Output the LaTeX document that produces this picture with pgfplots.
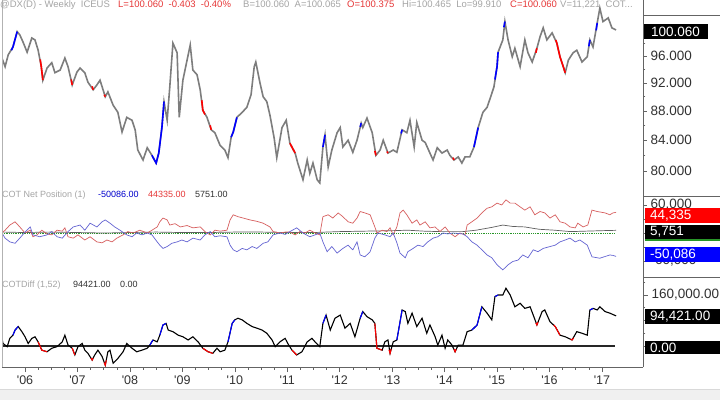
\documentclass[border=0pt]{standalone}
\usepackage{pgfplots}
\pgfplotsset{compat=1.18}
\usepackage{fontspec}
\setmainfont{Liberation Sans}
\definecolor{pricegray}{RGB}{125,125,125}
\definecolor{pblue}{RGB}{0,0,255}
\definecolor{pred}{RGB}{255,0,0}
\definecolor{cotred}{RGB}{215,95,95}
\definecolor{cotblue}{RGB}{100,100,210}
\definecolor{cotblack}{RGB}{95,95,95}
\definecolor{axgray}{RGB}{100,100,100}
\definecolor{lblgray}{RGB}{50,50,50}
\definecolor{hdrgray}{RGB}{165,165,165}
\definecolor{hdrred}{RGB}{230,55,55}
\definecolor{zgreen}{RGB}{40,150,40}
\pgfplotsset{
 panel/.style={scale only axis, width=641pt, xmin=2005.561, xmax=2017.783, anchor=north west,
   tick align=outside,
   major tick length=4pt, minor tick length=2.5pt,
   every tick/.style={draw=axgray, line width=0.6pt},
   axis line style={draw=axgray, line width=0.8pt},
   yticklabel style={font=\fontsize{13.5}{14}\selectfont, text=lblgray},
   unbounded coords=jump},
}
\begin{document}
\begin{tikzpicture}
\useasboundingbox (0pt,0pt) rectangle (720pt,-400pt);
\fill[white] (0pt,0pt) rectangle (720pt,-400pt);
% ---------- price panel
\begin{axis}[panel, at={(2pt,0pt)}, height=196pt, ymode=log, ymin=76.89, ymax=104.95,
  axis y line*=right, axis x line=none,
  ytick={80,84,88,92,96}, yticklabels={80.000,84.000,88.000,92.000,96.000},
  minor ytick={82,86,90,94,98}]
\addplot[pricegray, line width=1.6pt] coordinates {(2005.56,95.7)(2005.62,94.4)(2005.68,96.2)(2005.77,97.4)(2005.85,99.8)(2005.90,99.3)(2005.96,98.2)(2006.04,96.6)(2006.13,98.8)(2006.19,98.5)(2006.25,96.9)(2006.31,94.4)(2006.34,92.4)(2006.42,94.2)(2006.51,95.0)(2006.57,93.5)(2006.67,93.9)(2006.76,95.7)(2006.82,94.4)(2006.90,91.7)(2006.99,93.6)(2007.05,94.2)(2007.14,93.5)(2007.20,92.1)(2007.30,91.0)(2007.37,91.7)(2007.43,92.4)(2007.53,90.0)(2007.58,90.7)(2007.68,88.8)(2007.77,87.8)(2007.85,85.1)(2007.94,87.1)(2008.04,86.7)(2008.10,85.4)(2008.15,82.7)(2008.25,81.4)(2008.33,83.0)(2008.42,82.0)(2008.50,81.0)(2008.55,82.3)(2008.61,85.7)(2008.65,89.3)(2008.71,86.7)(2008.76,91.4)(2008.82,98.0)(2008.90,96.5)(2008.94,87.1)(2009.01,92.4)(2009.09,95.4)(2009.15,97.7)(2009.20,93.9)(2009.28,93.2)(2009.34,91.0)(2009.39,88.1)(2009.47,87.1)(2009.55,85.4)(2009.62,85.0)(2009.72,83.3)(2009.81,82.7)(2009.87,81.7)(2009.93,84.4)(2009.97,85.1)(2010.04,87.1)(2010.14,87.8)(2010.23,88.5)(2010.31,90.3)(2010.37,94.4)(2010.40,95.1)(2010.48,92.0)(2010.54,90.0)(2010.61,89.3)(2010.67,87.4)(2010.75,84.3)(2010.80,81.7)(2010.90,85.7)(2010.98,86.7)(2011.05,83.6)(2011.15,82.3)(2011.20,81.0)(2011.30,78.9)(2011.38,81.4)(2011.43,79.7)(2011.49,81.0)(2011.57,78.9)(2011.62,78.5)(2011.68,83.1)(2011.72,84.7)(2011.78,80.5)(2011.85,82.7)(2011.95,85.0)(2012.01,85.7)(2012.06,83.1)(2012.16,84.0)(2012.25,82.4)(2012.33,84.0)(2012.41,86.3)(2012.44,85.7)(2012.52,87.0)(2012.62,85.0)(2012.69,82.0)(2012.77,82.7)(2012.83,84.0)(2012.92,82.3)(2013.02,82.7)(2013.09,82.4)(2013.19,85.4)(2013.28,85.0)(2013.34,86.7)(2013.42,83.1)(2013.47,86.4)(2013.57,84.0)(2013.63,83.7)(2013.72,82.3)(2013.78,81.4)(2013.86,83.0)(2013.95,82.3)(2014.05,82.7)(2014.10,82.0)(2014.18,81.4)(2014.26,81.8)(2014.33,81.0)(2014.39,81.8)(2014.48,81.8)(2014.56,83.1)(2014.64,85.7)(2014.73,87.8)(2014.81,88.5)(2014.87,89.8)(2014.94,91.4)(2015.00,94.4)(2015.02,96.6)(2015.11,98.5)(2015.15,101.4)(2015.21,98.5)(2015.29,95.9)(2015.34,97.2)(2015.44,94.4)(2015.53,98.5)(2015.59,96.5)(2015.67,95.1)(2015.76,97.2)(2015.82,99.0)(2015.88,100.4)(2015.95,98.5)(2016.05,99.6)(2016.14,98.0)(2016.20,95.9)(2016.30,93.5)(2016.36,95.4)(2016.45,96.5)(2016.52,96.9)(2016.62,95.1)(2016.72,95.9)(2016.77,98.5)(2016.83,97.4)(2016.91,101.2)(2016.96,103.6)(2017.02,101.4)(2017.12,102.0)(2017.19,100.4)(2017.27,100.06)};
\addplot[pblue, line width=1.6pt] coordinates {(2005.74,96.9)(2005.77,97.4)(2005.85,99.8)(2005.86,nan)
(2008.42,82.0)(2008.50,81.0)(2008.55,82.3)(2008.61,85.7)(2008.65,89.3)(2008.66,nan)
(2009.93,84.4)(2009.97,85.1)(2010.04,87.1)(2010.05,nan)
(2011.68,83.1)(2011.72,84.7)(2011.73,nan)
(2012.39,85.8)(2012.41,86.3)(2012.42,nan)
(2013.17,84.9)(2013.19,85.4)(2013.20,nan)
(2014.56,83.1)(2014.64,85.7)(2014.65,nan)
(2014.96,92.5)(2015.00,94.4)(2015.02,96.6)(2015.03,nan)
(2015.13,100.5)(2015.15,101.4)(2015.16,nan)
(2016.75,97.5)(2016.77,98.5)(2016.78,nan)
(2016.89,100.0)(2016.91,101.2)};
\addplot[pred, line width=1.6pt] coordinates {(2006.29,95.5)(2006.31,94.4)(2006.34,92.4)(2006.35,nan)
(2006.88,92.5)(2006.90,91.7)(2006.91,nan)
(2007.28,91.5)(2007.30,91.0)(2007.31,nan)
(2007.51,90.3)(2007.53,90.0)(2007.54,nan)
(2009.37,89.5)(2009.39,88.1)(2009.43,87.5)(2009.44,nan)
(2009.53,86.0)(2009.55,85.4)(2009.56,nan)
(2011.05,83.6)(2011.15,82.3)(2011.16,nan)
(2012.67,82.6)(2012.69,82.0)(2012.70,nan)
(2012.90,82.5)(2012.92,82.3)(2012.93,nan)
(2014.16,81.7)(2014.18,81.4)(2014.19,nan)
(2015.74,96.5)(2015.76,97.2)(2015.77,nan)
(2016.12,98.5)(2016.14,98.0)(2016.20,95.9)(2016.30,93.5)};
\end{axis}
% ---------- COT net position panel
\begin{axis}[panel, at={(2pt,-196pt)}, height=81pt, ymin=-94.2, ymax=79.2,
  axis y line*=right, axis x line=none,
  ytick={-60,60}, yticklabels={{-60{,}000},{60{,}000}}, minor ytick={-30,0,30}]
\addplot[zgreen, densely dotted, line width=0.8pt] coordinates {(2005.56,0)(2017.25,0)};
\addplot[cotblack, line width=0.7pt] coordinates {(2005.56,2)(2006.0,1)(2006.5,2)(2007.0,1)(2007.5,0)(2008.0,1)(2008.5,2)(2009.0,1)(2009.5,1)(2010.0,2)(2010.5,2)(2011.0,1)(2011.5,1)(2012.0,3)(2012.5,4)(2013.0,5)(2013.3,6)(2013.6,4)(2013.9,3)(2014.35,3)(2014.6,6)(2014.9,12)(2015.11,17)(2015.3,14)(2015.53,13)(2015.8,8)(2016.1,6)(2016.4,3)(2016.7,4)(2017.0,5)(2017.27,5.751)};
\addplot[cotred, line width=0.7pt] coordinates {(2005.56,0)(2005.62,6)(2005.71,17)(2005.81,24)(2005.90,13)(2006.00,0)(2006.10,6)(2006.15,-8)(2006.23,-4)(2006.32,6)(2006.42,-2)(2006.51,-4)(2006.61,6)(2006.71,4)(2006.76,11)(2006.82,-8)(2006.92,-11)(2007.01,-4)(2007.14,-15)(2007.24,-8)(2007.37,-19)(2007.47,-21)(2007.56,-15)(2007.66,-19)(2007.75,-11)(2007.87,-4)(2007.96,3)(2008.06,0)(2008.19,6)(2008.33,0)(2008.42,6)(2008.52,13)(2008.57,24)(2008.63,32)(2008.71,28)(2008.76,17)(2008.86,20)(2008.96,13)(2009.09,16)(2009.20,11)(2009.34,13)(2009.43,3)(2009.53,-4)(2009.62,6)(2009.72,4)(2009.85,6)(2009.91,28)(2009.97,39)(2010.06,35)(2010.16,32)(2010.29,28)(2010.42,25)(2010.54,21)(2010.67,13)(2010.73,3)(2010.86,0)(2010.96,2)(2011.05,2)(2011.15,-4)(2011.24,3)(2011.34,0)(2011.43,6)(2011.53,0)(2011.62,-4)(2011.68,35)(2011.78,39)(2011.87,32)(2011.97,43)(2012.06,35)(2012.16,24)(2012.25,21)(2012.33,32)(2012.39,46)(2012.48,43)(2012.58,39)(2012.67,13)(2012.71,0)(2012.81,6)(2012.90,3)(2012.96,11)(2013.02,-4)(2013.09,13)(2013.15,43)(2013.21,49)(2013.28,39)(2013.38,21)(2013.47,28)(2013.53,17)(2013.63,24)(2013.72,11)(2013.82,13)(2013.91,3)(2014.01,13)(2014.10,0)(2014.20,-8)(2014.29,0)(2014.39,-4)(2014.43,17)(2014.52,24)(2014.62,32)(2014.71,43)(2014.81,53)(2014.90,56)(2015.00,64)(2015.09,60)(2015.17,71)(2015.25,64)(2015.34,64)(2015.44,56)(2015.53,49)(2015.63,56)(2015.72,39)(2015.82,46)(2015.91,43)(2016.01,32)(2016.11,39)(2016.20,24)(2016.30,21)(2016.39,13)(2016.49,11)(2016.54,21)(2016.64,13)(2016.73,17)(2016.81,49)(2016.91,46)(2017.06,43)(2017.15,39)(2017.21,43)(2017.27,44.335)};
\addplot[cotblue, line width=0.7pt] coordinates {(2005.56,0)(2005.62,-11)(2005.71,-19)(2005.81,-22)(2005.90,-11)(2006.00,2)(2006.10,13)(2006.15,-4)(2006.28,-8)(2006.42,-4)(2006.51,3)(2006.61,-8)(2006.71,-11)(2006.82,3)(2006.92,13)(2007.05,17)(2007.14,6)(2007.24,21)(2007.37,13)(2007.47,24)(2007.53,28)(2007.62,21)(2007.71,13)(2007.81,6)(2007.94,-4)(2008.04,-8)(2008.13,0)(2008.23,-4)(2008.33,0)(2008.42,-4)(2008.52,-19)(2008.57,-26)(2008.63,-33)(2008.71,-29)(2008.80,-22)(2008.90,-19)(2008.99,-15)(2009.09,-19)(2009.20,-11)(2009.34,-15)(2009.43,-4)(2009.53,3)(2009.62,-8)(2009.72,-6)(2009.85,-8)(2009.91,-26)(2009.97,-36)(2010.04,-40)(2010.14,-33)(2010.23,-36)(2010.33,-29)(2010.42,-33)(2010.54,-22)(2010.63,-19)(2010.73,-4)(2010.86,0)(2010.96,-3)(2011.05,3)(2011.18,11)(2011.30,0)(2011.43,-8)(2011.53,-4)(2011.62,0)(2011.68,-19)(2011.76,-40)(2011.85,-29)(2011.95,-43)(2012.06,-33)(2012.16,-26)(2012.25,-36)(2012.33,-19)(2012.39,-47)(2012.48,-51)(2012.58,-40)(2012.67,-11)(2012.73,0)(2012.86,-4)(2012.96,-8)(2013.02,0)(2013.09,-21)(2013.15,-43)(2013.25,-53)(2013.30,-40)(2013.40,-33)(2013.49,-26)(2013.59,-29)(2013.68,-19)(2013.78,-11)(2013.87,-8)(2013.97,0)(2014.06,-2)(2014.16,0)(2014.26,-1)(2014.35,-2)(2014.43,-8)(2014.52,-19)(2014.62,-26)(2014.71,-36)(2014.81,-47)(2014.90,-53)(2015.00,-68)(2015.11,-79)(2015.21,-68)(2015.30,-61)(2015.40,-58)(2015.49,-47)(2015.59,-53)(2015.69,-36)(2015.78,-40)(2015.88,-33)(2016.01,-29)(2016.11,-26)(2016.20,-19)(2016.30,-15)(2016.39,-11)(2016.49,-19)(2016.58,-15)(2016.72,-26)(2016.81,-51)(2016.91,-53)(2016.96,-54)(2017.15,-47)(2017.21,-48)(2017.27,-50.086)};
\end{axis}
% ---------- COTDiff panel
\begin{axis}[panel, at={(2pt,-277pt)}, height=90pt, ymin=-65.8, ymax=216.3,
  axis y line*=right, axis x line*=bottom,
  ytick={160}, yticklabels={{160{,}000.00}}, minor ytick={0,40,80,120,200},
  xtick={2006,2007,2008,2009,2010,2011,2012,2013,2014,2015,2016,2017},
  xticklabels={{\textquotesingle06},{\textquotesingle07},{\textquotesingle08},{\textquotesingle09},{\textquotesingle10},{\textquotesingle11},{\textquotesingle12},{\textquotesingle13},{\textquotesingle14},{\textquotesingle15},{\textquotesingle16},{\textquotesingle17}},
  minor x tick num=3, major tick length=5pt,
  xticklabel style={font=\fontsize{12.5}{13}\selectfont, text=lblgray}]
\addplot[black!85, line width=1.2pt] coordinates {(2005.56,0)(2017.25,0)};
\addplot[black, line width=1.1pt] coordinates {(2005.56,24)(2005.58,8)(2005.66,-2)(2005.71,24)(2005.77,34)(2005.81,50)(2005.87,61)(2005.94,45)(2006.00,29)(2006.06,8)(2006.13,24)(2006.19,29)(2006.25,13)(2006.32,-13)(2006.42,-18)(2006.51,-7)(2006.61,-2)(2006.71,13)(2006.76,34)(2006.82,3)(2006.90,-7)(2006.95,-28)(2007.01,-2)(2007.09,8)(2007.14,-13)(2007.20,-23)(2007.28,-44)(2007.33,-28)(2007.39,-13)(2007.47,-33)(2007.53,-60)(2007.58,-18)(2007.62,-13)(2007.68,-54)(2007.77,-39)(2007.87,-18)(2007.94,8)(2008.04,-7)(2008.13,-18)(2008.23,-13)(2008.33,-7)(2008.38,3)(2008.44,19)(2008.52,13)(2008.57,34)(2008.63,66)(2008.69,71)(2008.73,50)(2008.82,45)(2008.92,34)(2009.01,29)(2009.11,19)(2009.20,29)(2009.30,13)(2009.39,-7)(2009.49,-18)(2009.58,-23)(2009.66,-7)(2009.72,-18)(2009.81,-13)(2009.87,13)(2009.95,71)(2010.00,82)(2010.06,87)(2010.14,82)(2010.23,71)(2010.33,61)(2010.42,56)(2010.52,50)(2010.61,40)(2010.71,19)(2010.77,-2)(2010.86,13)(2010.96,24)(2011.01,8)(2011.09,-13)(2011.18,-28)(2011.28,-18)(2011.38,13)(2011.47,24)(2011.53,13)(2011.62,-2)(2011.68,71)(2011.74,97)(2011.82,50)(2011.91,87)(2012.01,97)(2012.10,56)(2012.20,71)(2012.29,29)(2012.39,87)(2012.44,108)(2012.52,92)(2012.62,82)(2012.67,71)(2012.71,-7)(2012.81,-13)(2012.86,13)(2012.92,19)(2012.96,-23)(2013.02,13)(2013.09,19)(2013.19,113)(2013.25,108)(2013.30,71)(2013.38,103)(2013.47,61)(2013.57,87)(2013.66,40)(2013.72,66)(2013.82,29)(2013.87,3)(2013.95,34)(2014.01,-7)(2014.06,19)(2014.14,3)(2014.20,-18)(2014.26,3)(2014.35,3)(2014.43,45)(2014.52,50)(2014.62,66)(2014.71,123)(2014.81,103)(2014.90,82)(2014.96,155)(2015.02,160)(2015.11,160)(2015.17,181)(2015.25,160)(2015.34,123)(2015.44,134)(2015.53,118)(2015.63,123)(2015.69,97)(2015.76,66)(2015.86,108)(2015.91,113)(2016.01,76)(2016.11,61)(2016.20,34)(2016.30,29)(2016.43,19)(2016.52,45)(2016.62,40)(2016.72,34)(2016.77,113)(2016.83,118)(2016.91,113)(2016.96,123)(2017.06,108)(2017.15,103)(2017.27,94.421)};
\addplot[pblue, line width=1.1pt] coordinates {(2005.77,34)(2005.81,50)(2005.87,61)(2005.88,nan)
(2008.38,3)(2008.44,19)(2008.45,nan)
(2008.57,34)(2008.63,66)(2008.69,71)(2008.70,nan)
(2009.87,13)(2009.95,71)(2010.00,82)(2010.01,nan)
(2011.68,71)(2011.74,97)(2011.75,nan)
(2012.39,87)(2012.44,108)(2012.45,nan)
(2013.09,19)(2013.19,113)(2013.20,nan)
(2014.52,50)(2014.62,66)(2014.71,123)(2014.72,nan)
(2014.96,155)(2015.02,160)(2015.03,nan)
(2016.77,113)(2016.83,118)};
\addplot[pred, line width=1.1pt] coordinates {(2006.25,13)(2006.32,-13)(2006.42,-18)(2006.43,nan)
(2006.90,-7)(2006.95,-28)(2006.96,nan)
(2007.26,-38)(2007.28,-44)(2007.30,-38)(2007.31,nan)
(2007.51,-52)(2007.53,-60)(2007.55,-45)(2007.56,nan)
(2009.39,-7)(2009.49,-18)(2009.58,-23)(2009.59,nan)
(2011.09,-13)(2011.18,-28)(2011.19,nan)
(2012.67,71)(2012.71,-7)(2012.81,-13)(2012.82,nan)
(2012.94,-12)(2012.96,-23)(2012.98,-10)(2012.99,nan)
(2014.18,-10)(2014.20,-18)(2014.22,-10)(2014.23,nan)
(2015.74,72)(2015.76,66)(2015.78,75)(2015.79,nan)
(2016.08,66)(2016.11,61)(2016.20,34)(2016.21,nan)
(2016.40,21)(2016.43,19)(2016.46,25)};
\end{axis}
\begin{scope}[x=1pt,y=1pt]
% ---------- frame lines
\draw[black!30, line width=0.8pt] (2,0) -- (2,-367);
\draw[axgray, line width=0.8pt] (643,-15) -- (720,-15);
\draw[axgray, line width=0.8pt] (643,-196) -- (720,-196);
\draw[axgray, line width=0.8pt] (643,-277) -- (720,-277);
% scrollbar
\fill[black!6] (0,-389) rectangle (720,-400);
\draw[black!15] (0,-389) -- (720,-389);
% ---------- value boxes
\fill[black] (644,-24) rectangle (708,-39);
\node[anchor=west, inner sep=0, text=white, font=\fontsize{13.5}{14}\selectfont] at (651,-31.5) {100.060};
\fill[pred] (645,-208) rectangle (720,-223);
\node[anchor=west, inner sep=0, text=white, font=\fontsize{13.5}{14}\selectfont] at (650,-215.5) {44,335};
\fill[black] (645,-225) rectangle (720,-239);
\node[anchor=west, inner sep=0, text=white, font=\fontsize{13.5}{14}\selectfont] at (650,-232) {5,751};
\fill[zgreen] (645,-239) rectangle (720,-241);
\fill[pblue] (645,-247) rectangle (720,-262);
\node[anchor=west, inner sep=0, text=white, font=\fontsize{13.5}{14}\selectfont] at (650,-254.5) {-50,086};
\fill[black] (645,-309) rectangle (720,-324);
\node[anchor=west, inner sep=0, text=white, font=\fontsize{13.5}{14}\selectfont] at (650,-316.5) {94,421.00};
\fill[black] (645,-341) rectangle (720,-354);
\node[anchor=west, inner sep=0, text=white, font=\fontsize{13.5}{14}\selectfont] at (650,-347.5) {0.00};
% ---------- header and panel titles
\begin{scope}[every node/.style={anchor=base west, inner sep=0, font=\fontsize{9.5}{10}\selectfont}]
\node[text=hdrgray] at (0,-7.5) {@DX(D) - Weekly\ \ ICEUS};
\node[text=hdrred] at (118,-7.5) {L=100.060\ \ -0.403\ \ -0.40\%};
\node[text=hdrgray] at (243,-7.5) {B=100.060\ \ A=100.065};
\node[text=hdrred] at (347,-7.5) {O=100.375};
\node[text=hdrgray] at (402,-7.5) {Hi=100.465\ \ Lo=99.910};
\node[text=hdrred] at (510,-7.5) {C=100.060};
\node[text=hdrgray] at (560,-7.5) {V=11,221\ \ COT...};
\end{scope}
\begin{scope}[every node/.style={anchor=base west, inner sep=0, font=\fontsize{9}{10}\selectfont}]
\node[text=hdrgray] at (2,-197.5) {COT Net Position (1)};
\node[text=pblue!80!black] at (98,-197.5) {-50086.00};
\node[text=hdrred] at (148,-197.5) {44335.00};
\node[text=lblgray] at (195,-197.5) {5751.00};
\node[text=hdrgray] at (2,-287) {COTDiff (1,52)};
\node[text=lblgray] at (73,-287) {94421.00};
\node[text=lblgray] at (120,-287) {0.00};
\end{scope}
\end{scope}
\end{tikzpicture}
\end{document}
